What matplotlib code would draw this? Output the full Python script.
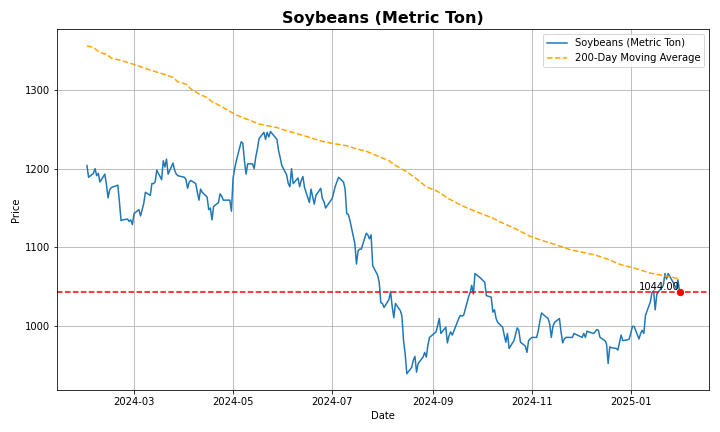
import numpy as np
import pandas as pd
import matplotlib
matplotlib.use("Agg")
import matplotlib.pyplot as plt

# ── Datos ──────────────────────────────────────────────────────────────────
PRICE_DATES = [
    "2024-02-01", "2024-02-02", "2024-02-05", "2024-02-06", "2024-02-07", "2024-02-08",
    "2024-02-09", "2024-02-12", "2024-02-13", "2024-02-14", "2024-02-15", "2024-02-16",
    "2024-02-20", "2024-02-21", "2024-02-22", "2024-02-23", "2024-02-26", "2024-02-27",
    "2024-02-28", "2024-02-29", "2024-03-01", "2024-03-04", "2024-03-05", "2024-03-06",
    "2024-03-07", "2024-03-08", "2024-03-11", "2024-03-12", "2024-03-13", "2024-03-14",
    "2024-03-15", "2024-03-18", "2024-03-19", "2024-03-20", "2024-03-21", "2024-03-22",
    "2024-03-25", "2024-03-26", "2024-03-27", "2024-03-28", "2024-04-01", "2024-04-02",
    "2024-04-03", "2024-04-04", "2024-04-05", "2024-04-08", "2024-04-09", "2024-04-10",
    "2024-04-11", "2024-04-12", "2024-04-15", "2024-04-16", "2024-04-17", "2024-04-18",
    "2024-04-19", "2024-04-22", "2024-04-23", "2024-04-24", "2024-04-25", "2024-04-26",
    "2024-04-29", "2024-04-30", "2024-05-01", "2024-05-02", "2024-05-03", "2024-05-06",
    "2024-05-07", "2024-05-08", "2024-05-09", "2024-05-10", "2024-05-13", "2024-05-14",
    "2024-05-15", "2024-05-16", "2024-05-17", "2024-05-20", "2024-05-21", "2024-05-22",
    "2024-05-23", "2024-05-24", "2024-05-28", "2024-05-29", "2024-05-30", "2024-05-31",
    "2024-06-03", "2024-06-04", "2024-06-05", "2024-06-06", "2024-06-07", "2024-06-10",
    "2024-06-11", "2024-06-12", "2024-06-13", "2024-06-14", "2024-06-17", "2024-06-18",
    "2024-06-20", "2024-06-21", "2024-06-24", "2024-06-25", "2024-06-26", "2024-06-27",
    "2024-06-28", "2024-07-01", "2024-07-02", "2024-07-03", "2024-07-05", "2024-07-08",
    "2024-07-09", "2024-07-10", "2024-07-11", "2024-07-12", "2024-07-15", "2024-07-16",
    "2024-07-17", "2024-07-18", "2024-07-19", "2024-07-22", "2024-07-23", "2024-07-24",
    "2024-07-25", "2024-07-26", "2024-07-29", "2024-07-30", "2024-07-31", "2024-08-01",
    "2024-08-02", "2024-08-05", "2024-08-06", "2024-08-07", "2024-08-08", "2024-08-09",
    "2024-08-12", "2024-08-13", "2024-08-14", "2024-08-15", "2024-08-16", "2024-08-19",
    "2024-08-20", "2024-08-21", "2024-08-22", "2024-08-23", "2024-08-26", "2024-08-27",
    "2024-08-28", "2024-08-29", "2024-08-30", "2024-09-03", "2024-09-04", "2024-09-05",
    "2024-09-06", "2024-09-09", "2024-09-10", "2024-09-11", "2024-09-12", "2024-09-13",
    "2024-09-16", "2024-09-17", "2024-09-18", "2024-09-19", "2024-09-20", "2024-09-23",
    "2024-09-24", "2024-09-25", "2024-09-26", "2024-09-27", "2024-09-30", "2024-10-01",
    "2024-10-02", "2024-10-03", "2024-10-04", "2024-10-07", "2024-10-08", "2024-10-09",
    "2024-10-10", "2024-10-11", "2024-10-14", "2024-10-15", "2024-10-16", "2024-10-17",
    "2024-10-18", "2024-10-21", "2024-10-22", "2024-10-23", "2024-10-24", "2024-10-25",
    "2024-10-28", "2024-10-29", "2024-10-30", "2024-10-31", "2024-11-01", "2024-11-04",
    "2024-11-05", "2024-11-06", "2024-11-07", "2024-11-08", "2024-11-11", "2024-11-12",
    "2024-11-13", "2024-11-14", "2024-11-15", "2024-11-18", "2024-11-19", "2024-11-20",
    "2024-11-21", "2024-11-22", "2024-11-25", "2024-11-26", "2024-11-27", "2024-11-29",
    "2024-12-02", "2024-12-03", "2024-12-04", "2024-12-05", "2024-12-06", "2024-12-09",
    "2024-12-10", "2024-12-11", "2024-12-12", "2024-12-13", "2024-12-16", "2024-12-17",
    "2024-12-18", "2024-12-19", "2024-12-20", "2024-12-23", "2024-12-24", "2024-12-26",
    "2024-12-27", "2024-12-30", "2024-12-31", "2025-01-02", "2025-01-03", "2025-01-06",
    "2025-01-07", "2025-01-08", "2025-01-09", "2025-01-10", "2025-01-13", "2025-01-14",
    "2025-01-15", "2025-01-16", "2025-01-17", "2025-01-21", "2025-01-22", "2025-01-23",
    "2025-01-24", "2025-01-27", "2025-01-28", "2025-01-29", "2025-01-30", "2025-01-31",
]
PRICES = [
    1204, 1189, 1194, 1200, 1191, 1194,
    1183, 1193, 1180, 1163, 1173, 1176,
    1179, 1158, 1134, 1135, 1136, 1133,
    1135, 1129, 1143, 1148, 1140, 1148,
    1156, 1170, 1166, 1181, 1181, 1183,
    1198, 1186, 1210, 1202, 1212, 1193,
    1207, 1198, 1193, 1191, 1189, 1186,
    1175, 1183, 1185, 1181, 1170, 1160,
    1174, 1170, 1164, 1148, 1150, 1135,
    1152, 1157, 1168, 1165, 1160, 1160,
    1160, 1146, 1188, 1200, 1210, 1234,
    1232, 1210, 1193, 1206, 1206, 1200,
    1215, 1225, 1238, 1246, 1237, 1246,
    1240, 1247, 1237, 1223, 1214, 1204,
    1192, 1181, 1177, 1200, 1181, 1188,
    1177, 1185, 1190, 1176, 1157, 1174,
    1155, 1166, 1175, 1162, 1158, 1150,
    1153, 1162, 1170, 1178, 1189, 1183,
    1174, 1143, 1142, 1134, 1105, 1079,
    1096, 1098, 1098, 1118, 1116, 1111,
    1116, 1077, 1065, 1056, 1030, 1029,
    1024, 1034, 1044, 1025, 1011, 1029,
    1020, 1013, 982, 965, 940, 948,
    957, 962, 942, 953, 961, 967,
    961, 976, 986, 993, 1001, 1010,
    991, 999, 979, 988, 993, 989,
    1005, 1010, 1014, 1013, 1014, 1037,
    1043, 1052, 1041, 1067, 1062, 1060,
    1058, 1056, 1039, 1037, 1018, 1021,
    1010, 1005, 999, 989, 980, 991,
    972, 982, 990, 998, 995, 980,
    975, 967, 982, 984, 986, 986,
    995, 1007, 1017, 1015, 1010, 1003,
    986, 1000, 1005, 1010, 993, 979,
    984, 986, 986, 986, 991, 989,
    986, 991, 986, 994, 993, 991,
    993, 996, 995, 986, 982, 978,
    953, 974, 973, 972, 970, 989,
    982, 983, 984, 1000, 1000, 984,
    991, 995, 991, 1014, 1031, 1043,
    1045, 1021, 1041, 1052, 1067, 1060,
    1067, 1056, 1052, 1048, 1059, 1044,
]

MA_DATES = [
    "2024-02-01", "2024-02-05", "2024-02-09", "2024-02-13", "2024-02-16", "2024-02-21",
    "2024-02-26", "2024-03-04", "2024-03-08", "2024-03-14", "2024-03-21", "2024-03-25",
    "2024-03-28", "2024-04-02", "2024-04-05", "2024-04-10", "2024-04-15", "2024-04-18",
    "2024-04-24", "2024-04-29", "2024-05-03", "2024-05-09", "2024-05-17", "2024-05-28",
    "2024-06-03", "2024-06-10", "2024-06-18", "2024-06-24", "2024-07-01", "2024-07-10",
    "2024-07-16", "2024-07-22", "2024-07-29", "2024-08-05", "2024-08-09", "2024-08-16",
    "2024-08-22", "2024-08-28", "2024-09-04", "2024-09-11", "2024-09-19", "2024-09-27",
    "2024-10-07", "2024-10-14", "2024-10-22", "2024-10-30", "2024-11-07", "2024-11-15",
    "2024-11-25", "2024-12-02", "2024-12-10", "2024-12-18", "2024-12-26", "2025-01-03",
    "2025-01-13", "2025-01-21", "2025-01-27", "2025-01-31",
]
MA_VALUES = [
    1355.7, 1353.6, 1347.0, 1345.0, 1340.0, 1337.6,
    1334.6, 1330.0, 1327.0, 1323.0, 1318.6, 1315.6,
    1310.0, 1307.0, 1301.0, 1294.6, 1290.0, 1285.0,
    1278.5, 1272.5, 1268.0, 1263.0, 1256.6, 1252.0,
    1248.0, 1244.0, 1239.0, 1235.0, 1232.0, 1229.0,
    1225.0, 1222.0, 1216.0, 1210.0, 1204.0, 1196.0,
    1187.0, 1177.0, 1171.0, 1161.6, 1153.0, 1146.0,
    1138.0, 1131.0, 1123.7, 1115.0, 1109.0, 1104.0,
    1097.0, 1094.0, 1090.5, 1085.0, 1078.0, 1074.0,
    1067.5, 1064.5, 1062.0, 1060.0,
]

COMMODITY = "Soybeans (Metric Ton)"

dates = pd.to_datetime(PRICE_DATES)
prices = np.array(PRICES, dtype=float)
ma_dates = pd.to_datetime(MA_DATES)
ma = np.array(MA_VALUES)

last_date = dates[-1]
last_price = prices[-1]

# ── Gráfico ────────────────────────────────────────────────────────────────
fig, ax = plt.subplots(figsize=(10, 6), dpi=72)

ax.plot(dates, prices, label=COMMODITY, linewidth=1.5)
ax.plot(ma_dates, ma, color="orange", linestyle="--", linewidth=1.5,
        label="200-Day Moving Average")
ax.axhline(last_price, color="red", linestyle="--", linewidth=1.5)
ax.scatter([last_date], [last_price], color="red", s=40, zorder=5)
ax.text(last_date, last_price, f"{last_price:.2f}", ha="right", va="bottom",
        fontsize=10)

ax.set_title(COMMODITY, fontsize=16, fontweight="bold")
ax.set_xlabel("Date")
ax.set_ylabel("Price")
ax.set_yticks([1000, 1100, 1200, 1300])
ax.legend(loc="upper right")
ax.grid(True)

fig.subplots_adjust(left=0.0796, right=0.985, top=0.932, bottom=0.097)
fig.savefig("out.png", dpi=72)
plt.close(fig)
